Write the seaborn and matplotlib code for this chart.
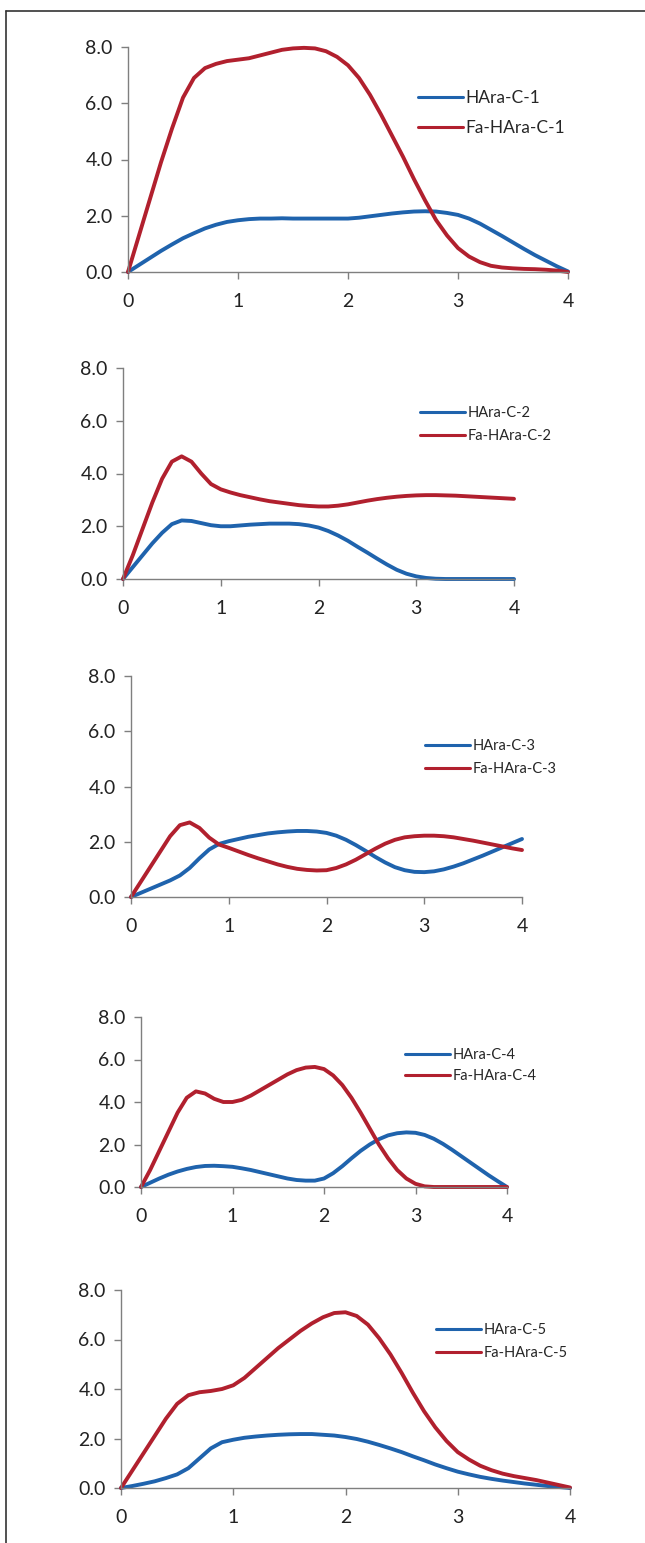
import numpy as np
import pandas as pd
import seaborn as sns
import matplotlib.pyplot as plt
from matplotlib.lines import Line2D

# time axis shared by every panel
x = [round(0.1 * i, 1) for i in range(41)]

hara_1 = [0, 0.25, 0.5, 0.75, 0.98, 1.2, 1.38, 1.55, 1.68, 1.78, 1.84, 1.88, 1.9, 1.9, 1.91, 1.9, 1.9, 1.9, 1.9, 1.9, 1.9,
          1.93, 1.98, 2.03, 2.08, 2.12, 2.15, 2.16, 2.15, 2.1, 2.03, 1.9, 1.72, 1.5, 1.28, 1.05, 0.82, 0.6, 0.4, 0.2, 0.02]
fa_hara_1 = [0, 1.3, 2.6, 3.9, 5.1, 6.2, 6.9, 7.25, 7.4, 7.5, 7.55, 7.6, 7.7, 7.8, 7.9, 7.95, 7.97, 7.95, 7.85, 7.65, 7.35,
             6.9, 6.3, 5.6, 4.85, 4.1, 3.3, 2.55, 1.85, 1.3, 0.85, 0.55, 0.35, 0.22, 0.16, 0.13, 0.11, 0.1, 0.08, 0.05, 0]

hara_2 = [0, 0.45, 0.9, 1.35, 1.75, 2.08, 2.22, 2.2, 2.12, 2.04, 2.0, 2.0, 2.03, 2.06, 2.08, 2.1, 2.1, 2.1, 2.08, 2.03, 1.95,
          1.82, 1.65, 1.45, 1.22, 1.0, 0.77, 0.55, 0.35, 0.2, 0.1, 0.04, 0.01, 0, 0, 0, 0, 0, 0, 0, 0]
fa_hara_2 = [0, 0.9, 1.9, 2.9, 3.8, 4.45, 4.65, 4.45, 4.0, 3.6, 3.4, 3.28, 3.18, 3.1, 3.02, 2.95, 2.9, 2.85, 2.8, 2.77, 2.75,
             2.75, 2.78, 2.83, 2.9, 2.97, 3.03, 3.08, 3.12, 3.15, 3.17, 3.18, 3.18, 3.17, 3.16, 3.14, 3.12, 3.1, 3.08, 3.06, 3.04]

hara_3 = [0, 0.15, 0.3, 0.45, 0.6, 0.78, 1.05, 1.4, 1.72, 1.92, 2.02, 2.1, 2.18, 2.24, 2.3, 2.34, 2.37, 2.39, 2.39, 2.37, 2.32,
          2.22, 2.07, 1.88, 1.67, 1.45, 1.25, 1.08, 0.97, 0.91, 0.9, 0.93, 1.0, 1.1, 1.22, 1.36, 1.5, 1.65, 1.8, 1.95, 2.1]
fa_hara_3 = [0, 0.55, 1.1, 1.65, 2.2, 2.6, 2.7, 2.5, 2.15, 1.9, 1.78, 1.65, 1.52, 1.4, 1.29, 1.18, 1.09, 1.02, 0.98, 0.96, 0.97,
             1.05, 1.18, 1.35, 1.55, 1.75, 1.93, 2.07, 2.16, 2.2, 2.22, 2.22, 2.2, 2.16, 2.1, 2.04, 1.97, 1.9, 1.83, 1.76, 1.7]

hara_4 = [0, 0.2, 0.4, 0.58, 0.73, 0.85, 0.94, 0.99, 1.0, 0.98, 0.95, 0.88, 0.8, 0.7, 0.6, 0.5, 0.4, 0.33, 0.3, 0.3, 0.4,
          0.65, 0.98, 1.35, 1.7, 2.0, 2.25, 2.43, 2.53, 2.57, 2.55, 2.45, 2.27, 2.03, 1.75, 1.45, 1.15, 0.85, 0.55, 0.27, 0]
fa_hara_4 = [0, 0.8, 1.7, 2.6, 3.5, 4.2, 4.5, 4.4, 4.15, 4.0, 4.0, 4.1, 4.3, 4.55, 4.8, 5.05, 5.3, 5.5, 5.62, 5.65, 5.55,
             5.25, 4.8, 4.2, 3.5, 2.75, 2.0, 1.35, 0.8, 0.4, 0.15, 0.03, 0, 0, 0, 0, 0, 0, 0, 0, 0]

hara_5 = [0, 0.08, 0.17, 0.27, 0.4, 0.55, 0.8, 1.2, 1.6, 1.85, 1.95, 2.03, 2.08, 2.12, 2.15, 2.17, 2.18, 2.18, 2.15, 2.12, 2.06,
          1.98, 1.87, 1.74, 1.6, 1.45, 1.28, 1.12, 0.95, 0.8, 0.66, 0.55, 0.45, 0.37, 0.3, 0.24, 0.18, 0.13, 0.08, 0.04, 0]
fa_hara_5 = [0, 0.7, 1.4, 2.1, 2.8, 3.4, 3.75, 3.87, 3.92, 4.0, 4.15, 4.45, 4.85, 5.25, 5.65, 6.0, 6.35, 6.65, 6.9, 7.07, 7.1,
             6.95, 6.6, 6.05, 5.4, 4.65, 3.85, 3.1, 2.45, 1.9, 1.45, 1.15, 0.9, 0.72, 0.58, 0.48, 0.4, 0.32, 0.22, 0.12, 0.02]

series = [(hara_1, fa_hara_1), (hara_2, fa_hara_2), (hara_3, fa_hara_3), (hara_4, fa_hara_4), (hara_5, fa_hara_5)]

x_ticks = [0, 1, 2, 3, 4]
y_ticks = [0, 2, 4, 6, 8]

# panel placement in pixels: x of 0, x of 4, y of 0.0, y of 8.0
boxes = [(128, 568, 272, 47), (123, 514, 579, 368), (131, 522, 897, 676),
         (141, 507, 1187, 1017), (121, 570, 1488, 1290)]
# legend: handle start x, first row y, row gap, font size
legends = [(418, 102, 32, 12.5), (420, 416, 24, 10.5), (425, 749, 24, 10.5),
           (405, 1058, 22, 10.5), (436, 1333, 24, 10.5)]

BLUE = "#1f63ad"
RED = "#b1202e"
W, H = 645, 1543

sns.set_style("ticks")
plt.rcParams['font.family'] = ['Lato', 'DejaVu Sans']

fig = plt.figure(figsize=(W / 100, H / 100), dpi=100)

for i, ((blue, red), (x0, x4, y0, y8), (lx, ly, gap, fs)) in enumerate(zip(series, boxes, legends)):
    n = i + 1
    ax = fig.add_axes([x0 / W, 1 - y0 / H, (x4 - x0) / W, (y0 - y8) / H])
    df = pd.DataFrame({
        "x": x + x,
        "y": blue + red,
        "name": [f"HAra-C-{n}"] * len(x) + [f"Fa-HAra-C-{n}"] * len(x),
    })
    sns.lineplot(data=df, x="x", y="y", hue="name", palette=[BLUE, RED],
                 linewidth=2.8, ax=ax, clip_on=False, legend=False)
    ax.set_xlim(0, 4)
    ax.set_ylim(0, 8)
    ax.set_xticks(x_ticks)
    ax.set_xticklabels([str(t) for t in x_ticks])
    ax.set_yticks(y_ticks)
    ax.set_yticklabels([f"{t:.1f}" for t in y_ticks])
    ax.set_xlabel("")
    ax.set_ylabel("")
    for s in ["top", "right"]:
        ax.spines[s].set_visible(False)
    for s in ["left", "bottom"]:
        ax.spines[s].set_color("#7f7f7f")
        ax.spines[s].set_linewidth(1.0)
    ax.tick_params(axis="both", direction="out", length=5, width=1.0, color="#7f7f7f",
                   labelsize=14, labelcolor="#222222")
    ax.tick_params(axis="x", pad=10)
    ax.tick_params(axis="y", pad=6)

    handles = [Line2D([], [], color=BLUE, lw=2.2), Line2D([], [], color=RED, lw=2.2)]
    fsp = fs * 100 / 72
    ax.legend(handles, [f"HAra-C-{n}", f"Fa-HAra-C-{n}"], loc="upper left",
              bbox_to_anchor=(lx / W, 1 - (ly - fsp * 0.7) / H), bbox_transform=fig.transFigure,
              frameon=False, fontsize=fs, handlelength=45 / fsp, handletextpad=0.15,
              borderpad=0, borderaxespad=0, labelspacing=(gap - fsp) / fsp)

# outer frame (top and left edges)
fig.add_artist(Line2D([6 / W, 1], [1 - 11 / H, 1 - 11 / H], color="#333333", lw=1.2, transform=fig.transFigure))
fig.add_artist(Line2D([6 / W, 6 / W], [1 - 11 / H, 0], color="#333333", lw=1.2, transform=fig.transFigure))

plt.savefig("out.png", dpi=100, facecolor="white")
